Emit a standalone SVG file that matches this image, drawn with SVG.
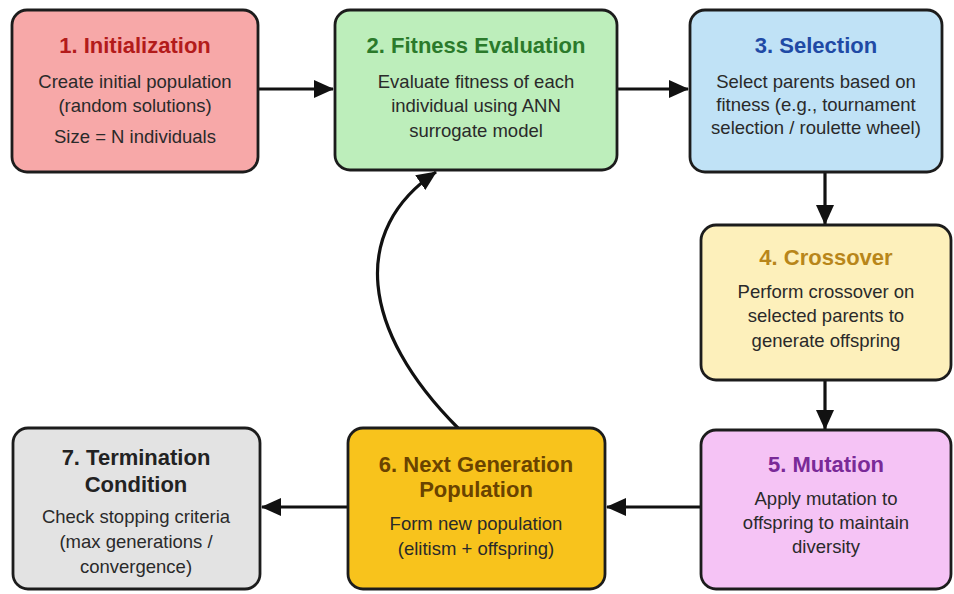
<svg xmlns="http://www.w3.org/2000/svg" width="954" height="594" viewBox="0 0 954 594">
<style>
.box{stroke:#1c1c1c;stroke-width:2.8}
.t{font-family:"Liberation Sans",Arial,sans-serif;font-weight:bold;font-size:22px;text-anchor:middle}
.b{font-family:"Liberation Sans",Arial,sans-serif;font-size:18.5px;fill:#2a2a2a;text-anchor:middle}
.c{fill:none;stroke:#111;stroke-width:3.2}
</style>
<defs>
<marker id="ah" markerUnits="userSpaceOnUse" markerWidth="20" markerHeight="18" refX="19" refY="9" orient="auto">
<path d="M0,0 L20,9 L0,18 z" fill="#111"/>
</marker>
</defs>
<rect width="954" height="594" fill="#fff"/>
<g id="connectors">
<line class="c" x1="258" y1="89" x2="333" y2="89" marker-end="url(#ah)"/>
<line class="c" x1="617" y1="89" x2="688" y2="89" marker-end="url(#ah)"/>
<line class="c" x1="825" y1="172" x2="825" y2="224" marker-end="url(#ah)"/>
<line class="c" x1="825" y1="380" x2="825" y2="429" marker-end="url(#ah)"/>
<line class="c" x1="701" y1="507" x2="607" y2="507" marker-end="url(#ah)"/>
<line class="c" x1="348" y1="507" x2="262" y2="507" marker-end="url(#ah)"/>
<path class="c" d="M458 428 C360 330 350 230 436 172" marker-end="url(#ah)"/>
</g>
<g id="n1">
<rect class="box" x="12" y="10" width="246" height="162" rx="15" fill="#f7a8a8"/>
<text class="t" x="135" y="53" fill="#b31b1b">1. Initialization</text>
<text class="b" x="135" y="88">Create initial population</text>
<text class="b" x="135" y="112">(random solutions)</text>
<text class="b" x="135" y="143">Size = N individuals</text>
</g>
<g id="n2">
<rect class="box" x="335" y="10" width="282" height="160" rx="15" fill="#bdeebb"/>
<text class="t" x="476" y="53" fill="#2b7a2b">2. Fitness Evaluation</text>
<text class="b" x="476" y="88">Evaluate fitness of each</text>
<text class="b" x="476" y="112">individual using ANN</text>
<text class="b" x="476" y="137">surrogate model</text>
</g>
<g id="n3">
<rect class="box" x="690" y="10" width="252" height="162" rx="15" fill="#c0e2f6"/>
<text class="t" x="816" y="53" fill="#1f4aa5">3. Selection</text>
<text class="b" x="816" y="88">Select parents based on</text>
<text class="b" x="816" y="111">fitness (e.g., tournament</text>
<text class="b" x="816" y="134">selection / roulette wheel)</text>
</g>
<g id="n4">
<rect class="box" x="701" y="225" width="250" height="155" rx="15" fill="#fdf0bb"/>
<text class="t" x="826" y="265" fill="#b8861a">4. Crossover</text>
<text class="b" x="826" y="298">Perform crossover on</text>
<text class="b" x="826" y="322">selected parents to</text>
<text class="b" x="826" y="347">generate offspring</text>
</g>
<g id="n5">
<rect class="box" x="701" y="430" width="250" height="159" rx="15" fill="#f5c3f5"/>
<text class="t" x="826" y="472" fill="#7a2a98">5. Mutation</text>
<text class="b" x="826" y="505">Apply mutation to</text>
<text class="b" x="826" y="529">offspring to maintain</text>
<text class="b" x="826" y="553">diversity</text>
</g>
<g id="n6">
<rect class="box" x="348" y="428" width="257" height="161" rx="15" fill="#f8c31c"/>
<text class="t" x="476" y="472" fill="#6a4300">6. Next Generation</text>
<text class="t" x="476" y="497" fill="#6a4300">Population</text>
<text class="b" x="476" y="530" fill="#3a2a00">Form new population</text>
<text class="b" x="476" y="555" fill="#3a2a00">(elitism + offspring)</text>
</g>
<g id="n7">
<rect class="box" x="13" y="428" width="247" height="161" rx="15" fill="#e3e3e3"/>
<text class="t" x="136" y="465" fill="#222">7. Termination</text>
<text class="t" x="136" y="492" fill="#222">Condition</text>
<text class="b" x="136" y="523">Check stopping criteria</text>
<text class="b" x="136" y="548">(max generations /</text>
<text class="b" x="136" y="573">convergence)</text>
</g>
</svg>
